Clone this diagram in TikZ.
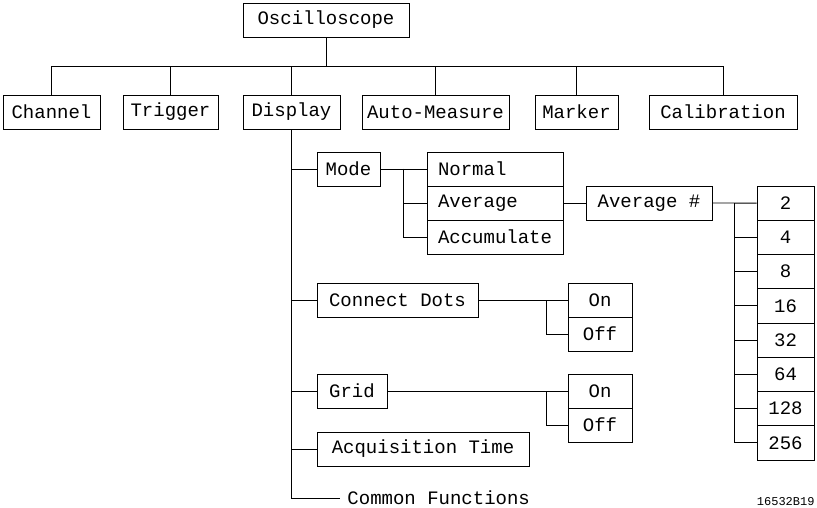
\documentclass[tikz,border=0pt]{standalone}
\usepackage{fontspec}
\setmonofont{Liberation Mono}
\usetikzlibrary{calc}
\tikzset{
	menu/.style={draw, minimum height=34pt, inner sep=0pt, font=\ttfamily\fontsize{19}{19}\selectfont},
	leftmenu/.style={menu, align=left, text width=#1, inner xsep=11pt},
	numbox/.style={menu, minimum width=57pt, minimum height=34.25pt}
}

\begin{document}
\begin{tikzpicture}[x=1pt, y=-1pt, line width=0.9pt]
		\useasboundingbox (0,0) rectangle (817,508);
		%%%%% START %%%%%
		
		\node[menu, minimum width=166pt] (osc) at (326, 20) {Oscilloscope};
		
		\node[menu, minimum width=97pt] (chan) at (51.5, 112) {Channel};
		\node[menu, minimum width=95pt] (trig) at (170.5, 112) {Trigger};
		\node[menu, minimum width=97pt] (disp) at (291.5, 112) {Display};
		\node[menu, minimum width=147pt] (automeas) at (435.5, 112) {Auto-Measure};
		\node[menu, minimum width=83pt] (marker) at (576.5, 112) {Marker};
		\node[menu, minimum width=148pt] (calib) at (723, 112) {Calibration};
		
		\coordinate (bus) at (0, 66);
		\draw (chan.north) |- (bus -| calib.north) -- (calib.north);
		\foreach \n in {osc.south, trig.north, disp.north, automeas.north, marker.north}
			\draw (\n) -- (\n |- bus);
		
		\node[menu, minimum width=63pt] (mode) at (348.5, 169) {Mode};
		\node[leftmenu=114pt] (normal) at (495, 169) {Normal};
		\node[leftmenu=114pt] (average) at (495, 203) {Average};
		\node[leftmenu=114pt] (accum) at (495, 237) {Accumulate};
		\node[menu, minimum width=126pt] (avgnum) at (649, 203) {Average \#};
		
		\foreach \v [count=\i from 0] in {2,4,8,16,32,64,128,256}
			\node[numbox] (n\v) at (785.5, 203.1+34.25*\i) {\v};
		
		\node[menu, minimum width=161pt] (cdots) at (397.5, 300) {Connect Dots};
		\node[menu, minimum width=64pt] (cdon) at (600, 300) {On};
		\node[menu, minimum width=64pt] (cdoff) at (600, 334) {Off};
		
		\node[menu, minimum width=70pt] (grid) at (352, 391) {Grid};
		\node[menu, minimum width=64pt] (gridon) at (600, 391) {On};
		\node[menu, minimum width=64pt] (gridoff) at (600, 425) {Off};
		
		\node[menu, minimum width=212pt] (acqtime) at (423, 449) {Acquisition Time};
		\node[font=\ttfamily\fontsize{19}{19}\selectfont, anchor=west, inner xsep=7pt, inner ysep=0pt] (common) at (340, 498) {Common Functions};
		
		% display branches
		\foreach \b in {mode, cdots, grid, acqtime, common}
			\draw (disp.south) |- (\b.west);
		
		% mode fork
		\coordinate (modefork) at ($(mode.east)+(23, 0)$);
		\draw (mode.east) -- (normal.west);
		\draw (modefork) |- (average.west);
		\draw (modefork) |- (accum.west);
		\draw (average.east) -- (avgnum.west);
		
		% average # fork
		\coordinate (avgfork) at ($(avgnum.east)+(22, 0)$);
		\draw (avgnum.east) -- (n2.west);
		\foreach \v in {4,8,16,32,64,128,256}
			\draw (avgfork) |- (n\v.west);
		
		% on/off forks
		\coordinate (cdfork) at ($(cdon.west)+(-21, 0)$);
		\draw (cdots.east) -- (cdon.west);
		\draw (cdfork) |- (cdoff.west);
		\coordinate (gridfork) at ($(gridon.west)+(-21, 0)$);
		\draw (grid.east) -- (gridon.west);
		\draw (gridfork) |- (gridoff.west);
		
		\node[font=\ttfamily\fontsize{12}{12}\selectfont, anchor=east, inner sep=0pt] (figid) at (815, 502) {16532B19};
		
		%%%%% END %%%%%
\end{tikzpicture}
\end{document}
